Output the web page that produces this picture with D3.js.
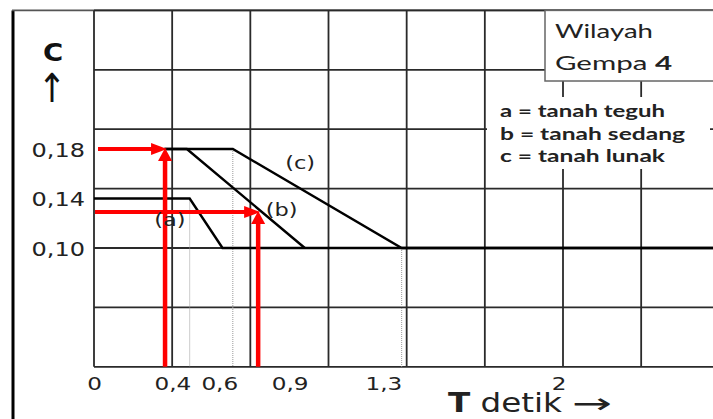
<!DOCTYPE html>
<html><head><meta charset="utf-8">
<script src="https://cdn.jsdelivr.net/npm/d3@7"></script>
<style>body{margin:0;background:#fff}svg{display:block}</style>
</head><body>
<script>
// ---- data ----
const xTickValues = [0, 0.4, 0.6, 0.9, 1.3, 2];
const xTickLabels = ["0", "0,4", "0,6", "0,9", "1,3", "2"];
const yTickValues = [0.10, 0.14, 0.18];
const yTickLabels = ["0,10", "0,14", "0,18"];
const gridT = [0, 1/3, 2/3, 1, 4/3, 5/3, 2, 7/3, 8/3];
const gridC = [0.004, 0.052, 0.100, 0.148, 0.196, 0.244, 0.292];
const curveA = [[0, 0.14], [0.408, 0.14], [0.548, 0.10], [2.8, 0.10]];
const curveB = [[0.30, 0.18], [0.396, 0.18], [0.899, 0.10]];
const curveC = [[0.30, 0.18], [0.592, 0.18], [1.312, 0.10], [2.8, 0.10]];
const dropT = [0.408, 0.592, 1.312];
const dropC = [0.14, 0.18, 0.10];
const readT = [0.303, 0.70];
const readC = [0.18, 0.129];
const curveNames = ["(a)", "(b)", "(c)"];
const curveLabelT = [0.324, 0.80, 0.879];
const curveLabelC = [0.1226, 0.1307, 0.169];
const legendLines = ["a = tanah teguh", "b = tanah sedang", "c = tanah lunak"];

const W = 713, H = 419;
const svg = d3.select("body").append("svg").attr("width", W).attr("height", H);
const x = d3.scaleLinear().domain([0, 2]).range([94, 563]);
const y = d3.scaleLinear().domain([0.10, 0.18]).range([248, 149]);
const yBot = y(gridC[0]), yTop = y(gridC[gridC.length - 1]);

// outer frame
svg.append("line").attr("x1", 13).attr("x2", 13).attr("y1", yTop).attr("y2", H)
  .attr("stroke", "#000").attr("stroke-width", 3);
svg.append("line").attr("x1", 12).attr("x2", W).attr("y1", yTop).attr("y2", yTop)
  .attr("stroke", "#555").attr("stroke-width", 1.6);

// grid
const grid = svg.append("g").attr("stroke", "#2a2a2a").attr("stroke-width", 1.8);
grid.selectAll(".gv").data(gridT).join("line")
  .attr("x1", d => x(d)).attr("x2", d => x(d)).attr("y1", yTop).attr("y2", yBot);
grid.selectAll(".gh").data(gridC).join("line")
  .attr("x1", x(0)).attr("x2", W).attr("y1", d => y(d)).attr("y2", d => y(d));

// legend white area
svg.append("rect").attr("x", 487).attr("y", 97).attr("width", 223).attr("height", 72).attr("fill", "#fff");
svg.append("rect").attr("x", 545).attr("y", yTop).attr("width", 200).attr("height", 81 - yTop)
  .attr("fill", "#fff").attr("stroke", "#666").attr("stroke-width", 1.5);

// dotted drops
svg.selectAll(".drop").data(dropT).join("line")
  .attr("x1", d => x(d)).attr("x2", d => x(d))
  .attr("y1", (d, i) => y(dropC[i])).attr("y2", yBot)
  .attr("stroke", "#999").attr("stroke-width", 1).attr("stroke-dasharray", "1,1");

// curves
const line = d3.line().x(d => x(d[0])).y(d => y(d[1]));
svg.selectAll(".curve").data([curveA, curveB, curveC]).join("path")
  .attr("d", line).attr("fill", "none").attr("stroke", "#000").attr("stroke-width", 2.4)
  .attr("stroke-linejoin", "miter");

// red reading arrows
const red = svg.append("g");
readT.forEach((t, i) => {
  const xv = x(t), yv = y(readC[i]);
  const xs = i === 0 ? x(0) + 4 : x(0) + 1;
  red.append("line").attr("x1", xs).attr("x2", xv - 12).attr("y1", yv).attr("y2", yv)
    .attr("stroke", "#f00").attr("stroke-width", 4);
  red.append("path").attr("d", `M${xv + 2},${yv} L${xv - 14},${yv - 6} L${xv - 14},${yv + 6} Z`).attr("fill", "#f00");
  red.append("line").attr("x1", xv).attr("x2", xv).attr("y1", yBot).attr("y2", yv + 10)
    .attr("stroke", "#f00").attr("stroke-width", 4.5);
  red.append("path").attr("d", `M${xv},${yv - 1} L${xv - 7},${yv + 12} L${xv + 7},${yv + 12} Z`).attr("fill", "#f00");
});

// curve labels
svg.selectAll(".clab").data(curveNames).join("text")
  .attr("transform", (d, i) => `translate(${x(curveLabelT[i])},${y(curveLabelC[i])}) scale(1.25,1)`)
  .attr("text-anchor", "middle").attr("dy", "0.35em")
  .attr("font-family", "DejaVu Sans").attr("font-size", 18).attr("fill", "#222").text(d => d);

// axes
const xAxis = svg.append("g").attr("transform", `translate(0,${yBot})`)
  .call(d3.axisBottom(x).tickValues(xTickValues).tickSize(0).tickFormat((d, i) => xTickLabels[i]));
xAxis.select(".domain").remove();
xAxis.selectAll("text").attr("y", 0).attr("dy", 0).attr("text-anchor", (d) => d === 0 ? "middle" : "end")
  .attr("transform", (d) => d === 0 ? "translate(0,23) scale(1.25,1)" : "translate(3,23) scale(1.25,1)")
  .attr("font-family", "DejaVu Sans").attr("font-size", 18.5).attr("fill", "#222");

const yAxis = svg.append("g").attr("transform", "translate(85,0)")
  .call(d3.axisLeft(y).tickValues(yTickValues).tickSize(0).tickFormat((d, i) => yTickLabels[i]));
yAxis.select(".domain").remove();
yAxis.selectAll("text").attr("x", 0).attr("dy", "0.36em").attr("text-anchor", "end")
  .attr("transform", "scale(1.2,1)")
  .attr("font-family", "DejaVu Sans").attr("font-size", 20).attr("fill", "#222");

// axis titles
svg.append("text").attr("transform", "translate(53,61) scale(1.1,1)").attr("text-anchor", "middle")
  .attr("font-family", "DejaVu Sans").attr("font-weight", "bold").attr("font-size", 25).attr("fill", "#111").text("C");
svg.append("text").attr("transform", "translate(52,102) scale(0.85,1)").attr("text-anchor", "middle")
  .attr("font-family", "DejaVu Sans").attr("font-size", 40).attr("fill", "#111").text("↑");

const tt = svg.append("text").attr("x", 448).attr("y", 412)
  .attr("font-family", "DejaVu Sans").attr("font-size", 26).attr("fill", "#222")
  .attr("textLength", 114).attr("lengthAdjust", "spacingAndGlyphs");
tt.append("tspan").attr("font-weight", "bold").text("T");
tt.append("tspan").text(" detik");
svg.append("text").attr("x", 572).attr("y", 413)
  .attr("font-family", "DejaVu Sans").attr("font-size", 28).attr("fill", "#222")
  .attr("textLength", 40).attr("lengthAdjust", "spacingAndGlyphs").text("→");

// legend texts
svg.append("text").attr("x", 555).attr("y", 38).attr("font-family", "Lato").attr("font-size", 18.5)
  .attr("fill", "#222").attr("textLength", 98).attr("lengthAdjust", "spacingAndGlyphs").text("Wilayah");
const g4 = svg.append("text").attr("x", 555).attr("y", 70).attr("font-family", "Lato").attr("font-size", 18.5)
  .attr("fill", "#222").attr("textLength", 117).attr("lengthAdjust", "spacingAndGlyphs");
g4.append("tspan").text("Gempa ");
g4.append("tspan").attr("font-weight", "bold").text("4");

const legLens = [165, 185, 165];
svg.selectAll(".leg").data(legendLines).join("text")
  .attr("x", 500).attr("y", (d, i) => 117 + i * 22.5)
  .attr("font-family", "Lato").attr("font-weight", "bold").attr("font-size", 17).attr("fill", "#222")
  .attr("textLength", (d, i) => legLens[i]).attr("lengthAdjust", "spacingAndGlyphs").text(d => d);
</script>
</body></html>
